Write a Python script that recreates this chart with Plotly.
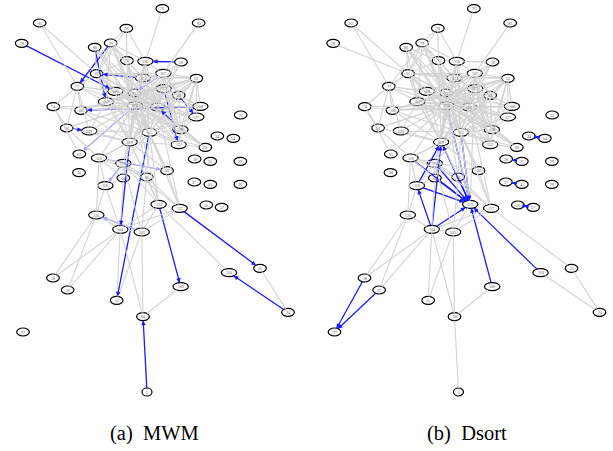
import plotly.graph_objects as go

node_ids = ["A","B","C","D","E","F","G","H","I","J","K","L","M","N","O","P","Q","R","S","T","U","V","W","X","Y","Z",
            "a","b","c","d","e","f","g","h","i","j","k","l","m","n","o","p","q","r","s","t","u","v","w","x","y","z",
            "aa","ab","ac","ad","ae","af","ag","ah","ai","aj","ak","al","am","an","ao"]
node_labels = ["76","82","83","78","28","79","80","71","130","59","61","107","123","53","77","106","75","112","52","117","115","111","74","68","108","127",
               "33","56","129","113","128","34","54","119","122","69","65","116","114","58","31","39","38","30","64","66","118","37","41","26","133","137",
               "36","57","120","104","103","18","22","55","109","110","35","24","60","27","5"]
node_x = [487,119,596,379,65,332,284,381,436,543,290,490,429,589,232,346,403,491,536,318,405,473,160,243,601,589,
          722,200,268,448,541,652,700,389,536,616,238,297,370,584,631,721,501,237,370,440,316,583,631,721,476,539,
          619,665,289,361,425,159,203,350,542,687,780,864,429,69,441]
node_y = [26,69,69,85,130,129,142,182,184,186,221,220,234,235,259,274,279,266,286,305,317,321,320,331,319,351,
          345,384,393,397,389,408,415,426,434,442,462,474,490,477,484,484,512,518,534,531,557,546,553,553,613,625,
          615,622,645,688,696,834,870,901,860,818,805,937,950,996,1176]

grey_common = """A-I B-K B-O C-L D-I D-K D-H D-F F-K F-H F-M F-I F-Q F-U F-T G-K G-Q G-U G-H H-I H-M H-U H-Q H-K I-J I-L I-M I-U I-Q I-V
J-L J-R J-U J-V K-O K-T K-P K-Q K-U K-M K-L K-N L-M L-N L-Q L-R L-U L-V L-S M-Q M-U M-V M-N M-R N-R N-S N-Y N-Z N-U N-V N-Q
O-X O-T O-W O-b O-c O-U O-P P-Q P-U P-V P-L Q-R Q-U Q-V Q-T Q-N Q-d Q-h Q-e Q-X Q-S R-S R-U R-V R-d S-U S-V S-Y S-e T-U T-V T-h T-d T-c T-R
U-V U-W U-X U-Y U-Z U-e U-i U-d U-h U-j U-t U-m U-b U-c U-S U-q U-y U-l V-Y V-Z V-i V-d V-h V-X V-T V-K V-P V-z V-j
W-X W-b W-k X-T X-h X-d b-h b-l b-U c-h c-d d-e d-i d-j d-h d-S d-Y d-Z d-t d-m d-l d-y d-z d-q d-R e-i e-j i-j i-h h-m h-s h-t h-l h-q h-y h-T h-R
l-u l-m l-s l-t l-ac m-s m-t m-y m-z m-ae s-ad s-u t-y t-ae t-z u-ac u-ad q-z y-ae y-ad y-aj y-ai z-ae z-ad z-ak ac-af ac-ag ac-ad ad-af ad-ag ad-ah ad-am ad-ae
ae-ah ae-am ai-am ak-al e-Z e-V
Q-i Q-j Q-Y Q-Z R-e R-i R-Y L-e L-Z L-i I-d I-h H-d H-h M-d M-h M-e M-i K-d K-h K-V T-e T-i P-d P-h P-e F-d F-V G-V G-d N-d N-h N-e N-i N-X""".split()
grey_right_only = ["E-K","F-O","G-T","J-I","M-K","R-i","h-ad","al-aj","ao-am","U-k","m-u","L-Q","X-Y","l-q","u-y","l-y","S-e","L-y"]
blue_left = ["E-P","F-O","G-T","J-I","M-K","Y-X","S-Z","b-c","e-V","R-i","d-ah","h-ad","y-ai","z-ak","al-aj","ao-am"]
light_left = ["U-k","l-q","m-u","L-Q","ae-ac"]
blue_right = ["u-h","y-h","ad-h","l-y","m-y","s-y","t-y","u-y","ad-y","ai-y","aj-y","ad-u","U-y","d-y",
              "af-an","ag-an","f-g","g-f","o-n","w-v","aa-ab","ab-aa"]
keep_dashed_right = ["U-y","d-y"]
titles = ["(a)\u00a0\u00a0MWM", "(b)\u00a0\u00a0Dsort"]

pos = {n: (x, y, l) for n, x, y, l in zip(node_ids, node_x, node_y, node_labels)}
def half_w(n):
    return {1: 15, 2: 19, 3: 23}[len(pos[n][2])]
HALF_H = 12

def pair(e):
    return frozenset(e.split("-"))

def without(edges, covering):
    cover = {pair(e) for e in covering}
    return [e for e in edges if pair(e) not in cover]

def radius(n, ux, uy):
    return 1 / (((ux / half_w(n)) ** 2 + (uy / HALF_H) ** 2) ** 0.5)

def seg(edges):
    xs, ys = [], []
    for e in edges:
        a, b = e.split("-")
        ax_, ay_, bx_, by_ = pos[a][0], pos[a][1], pos[b][0], pos[b][1]
        L = ((bx_ - ax_) ** 2 + (by_ - ay_) ** 2) ** 0.5
        ux, uy = (bx_ - ax_) / L, (by_ - ay_) / L
        ra, rb = radius(a, ux, uy), radius(b, ux, uy)
        xs += [ax_ + ux * ra, bx_ - ux * rb, None]
        ys += [ay_ + uy * ra, by_ - uy * rb, None]
    return xs, ys

fig = go.Figure()
def add_lines(edges, color, width, xa):
    xs, ys = seg(edges)
    fig.add_trace(go.Scatter(x=xs, y=ys, mode="lines", xaxis=xa, yaxis="y",
                             line=dict(color=color, width=width), hoverinfo="skip", showlegend=False))

annotations, shapes = [], []
def add_arrows(edges, color, xa):
    for e in edges:
        a, b = e.split("-")
        sx, sy, tx, ty = pos[a][0], pos[a][1], pos[b][0], pos[b][1]
        dx, dy = sx - tx, sy - ty
        L = (dx * dx + dy * dy) ** 0.5
        ux, uy = dx / L, dy / L
        r = radius(b, ux, uy)
        tail = r + 18
        annotations.append(dict(x=tx, y=ty, ax=tx + ux * tail, ay=ty + uy * tail, xref=xa, yref="y", axref=xa, ayref="y",
                                text="", showarrow=True, arrowhead=2, arrowsize=0.7, arrowwidth=1.3, arrowcolor=color,
                                standoff=r / 3))

add_lines(blue_left, "#1a1aff", 1.3, "x")
add_lines(light_left, "#a8a8f2", 1.3, "x")
add_lines(without(grey_common, blue_left + light_left), "#d3d3d3", 1.1, "x")
add_arrows(blue_left, "#1a1aff", "x")
add_arrows(light_left, "#a8a8f2", "x")

add_lines(blue_right, "#1a1aff", 1.3, "x2")
add_lines(without(grey_common + grey_right_only, without(blue_right, keep_dashed_right)), "#d3d3d3", 1.1, "x2")
add_arrows(blue_right, "#1a1aff", "x2")

for xa in ("x", "x2"):
    for n in node_ids:
        x, y, lab = pos[n]
        w = half_w(n)
        shapes.append(dict(type="circle", xref=xa, yref="y", x0=x - w, x1=x + w, y0=y - HALF_H, y1=y + HALF_H,
                           fillcolor="white", line=dict(color="black", width=1.2), layer="below"))
        annotations.append(dict(x=x, y=y, xref=xa, yref="y", text=lab, showarrow=False,
                                font=dict(size=4, color="#555555", family="Liberation Serif")))

for xa, cx, t in (("x", 464, titles[0]), ("x2", 466, titles[1])):
    annotations.append(dict(x=cx, y=1300, xref=xa, yref="y", text=t, showarrow=False,
                            font=dict(size=20.5, color="black", family="Liberation Serif")))

ax_off = dict(visible=False, showgrid=False, zeroline=False, fixedrange=True)
fig.update_layout(
    width=613, height=451, margin=dict(l=0, r=0, t=0, b=0),
    paper_bgcolor="white", plot_bgcolor="white", showlegend=False,
    xaxis=dict(domain=[0, 0.5], range=[0, 919.5], **ax_off),
    xaxis2=dict(domain=[0.5, 1], range=[-15, 904.5], **ax_off),
    yaxis=dict(domain=[0, 1], range=[1353, 0], **ax_off),
    shapes=shapes, annotations=annotations,
)
fig.write_html("out.html", config=dict(displayModeBar=False),
               post_script="document.body.style.margin='0';document.body.style.overflow='hidden';")
